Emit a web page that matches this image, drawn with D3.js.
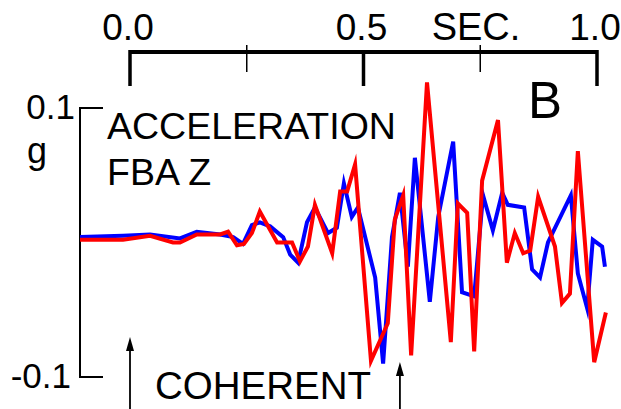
<!DOCTYPE html>
<html lang="en-US">
<head>
<meta charset="UTF-8">
<title>Acceleration FBA Z</title>
<style>
  body { margin: 0; background: #fff; }
  svg { display: block; }
  text { font-family: "Liberation Sans", Arial, sans-serif; fill: #000; }
  .trace { fill: none; stroke-width: 4px; stroke-linejoin: miter; stroke-miterlimit: 6; }
</style>
</head>
<body>
<div id="viz"></div>
<script src="https://d3js.org/d3.v7.min.js"></script>
<script>
// time in seconds, acceleration in g
var blueTime = [-0.107, -0.015, 0.043, 0.107, 0.143, 0.193, 0.221, 0.242, 0.261, 0.278,
                0.300, 0.328, 0.343, 0.360, 0.379, 0.396, 0.424, 0.443, 0.458, 0.475,
                0.488, 0.525, 0.542, 0.561, 0.578, 0.595, 0.610, 0.642, 0.660, 0.692,
                0.711, 0.737, 0.756, 0.777, 0.797, 0.809, 0.844, 0.861, 0.878, 0.895,
                0.944, 0.959, 0.979, 0.991, 1.011, 1.017];
var blueAcc  = [0.004, 0.005, 0.006, 0.003, 0.008, 0.006, 0.004, -0.001, 0.013, 0.015,
                0.012, 0.004, -0.009, -0.015, 0.015, 0.026, 0.007, 0.011, 0.044, 0.019,
                0.026, -0.026, -0.090, 0.004, 0.037, -0.018, 0.063, -0.044, 0.019, 0.075,
                -0.037, -0.040, 0.035, 0.009, 0.037, 0.028, 0.026, -0.020, -0.026, 0.000,
                0.035, -0.023, -0.049, 0.002, -0.003, -0.018];

var redTime = [-0.107, -0.015, 0.043, 0.092, 0.107, 0.143, 0.193, 0.210, 0.229, 0.244,
               0.261, 0.278, 0.315, 0.347, 0.364, 0.381, 0.396, 0.433, 0.450, 0.465,
               0.482, 0.516, 0.552, 0.567, 0.585, 0.602, 0.636, 0.687, 0.702, 0.722,
               0.737, 0.754, 0.788, 0.807, 0.824, 0.842, 0.857, 0.874, 0.910, 0.925,
               0.942, 0.959, 0.994, 1.019];
var redAcc  = [0.002, 0.002, 0.005, 0.000, 0.000, 0.006, 0.006, 0.008, -0.002, -0.001,
               0.007, 0.023, 0.000, 0.000, -0.014, -0.003, 0.028, -0.008, 0.038, 0.038,
               0.058, -0.088, -0.060, 0.017, 0.035, -0.084, 0.119, -0.074, 0.029, 0.022,
               -0.081, 0.046, 0.091, -0.015, 0.007, -0.008, -0.006, 0.034, -0.003, -0.045,
               -0.038, 0.068, -0.089, -0.052];

var majorTicks = [0, 0.5, 1];
var minorTicks = [0.25, 0.75];
var tickLabels = ["0.0", "0.5", "1.0"];
var yLimits = [-0.1, 0.1];
var yLabels = ["-0.1", "0.1"];
var arrowTimes = [0, 0.578];

var width = 621, height = 409;

var x = d3.scaleLinear().domain([0, 1]).range([130, 597]);
var y = d3.scaleLinear().domain(yLimits).range([377, 108]);

var svg = d3.select("#viz").append("svg")
    .attr("width", width)
    .attr("height", height);

// time axis on top
var axisY = 52;
svg.append("line")
    .attr("x1", x(0)).attr("x2", x(1))
    .attr("y1", axisY).attr("y2", axisY)
    .attr("stroke", "#000").attr("stroke-width", 4);

svg.selectAll(".major").data(majorTicks).enter().append("line")
    .attr("x1", d => x(d)).attr("x2", d => x(d))
    .attr("y1", axisY - 2).attr("y2", 86)
    .attr("stroke", "#000").attr("stroke-width", 3.5);

svg.selectAll(".minor").data(minorTicks).enter().append("line")
    .attr("x1", d => x(d)).attr("x2", d => x(d))
    .attr("y1", 45).attr("y2", 72)
    .attr("stroke", "#000").attr("stroke-width", 1.5);

svg.selectAll(".tlab").data(majorTicks).enter().append("text")
    .attr("x", d => x(d) - 2).attr("y", 40)
    .attr("text-anchor", "middle")
    .attr("font-size", 37)
    .text((d, i) => tickLabels[i]);

svg.append("text")
    .attr("x", 476).attr("y", 40)
    .attr("text-anchor", "middle")
    .attr("font-size", 38)
    .text("SEC.");

// y bracket
var axX = 80;
svg.append("path")
    .attr("d", "M" + (axX + 23) + "," + y(0.1) + "H" + axX + "V" + y(-0.1) + "H" + (axX + 23))
    .attr("fill", "none").attr("stroke", "#000").attr("stroke-width", 2);

svg.selectAll(".ylab").data(yLimits).enter().append("text")
    .attr("x", (d, i) => i === 0 ? 71 : 75).attr("y", d => y(d) + 11)
    .attr("text-anchor", "end")
    .attr("font-size", 35)
    .text((d, i) => yLabels[i]);

svg.append("text").attr("x", 27).attr("y", 163).attr("font-size", 36).text("g");

svg.append("text").attr("x", 107).attr("y", 139).attr("font-size", 37.5).text("ACCELERATION");
svg.append("text").attr("x", 107).attr("y", 185).attr("font-size", 37.5).text("FBA Z");
svg.append("text").attr("x", 528).attr("y", 118).attr("font-size", 51).text("B");
svg.append("text").attr("x", 155).attr("y", 399).attr("font-size", 38.5).text("COHERENT");

// arrows
var arrowTop = [337, 362];
arrowTimes.forEach(function (t, i) {
    var ax = x(t), top = arrowTop[i];
    svg.append("line")
        .attr("x1", ax).attr("x2", ax)
        .attr("y1", top + 6).attr("y2", height)
        .attr("stroke", "#000").attr("stroke-width", 1.8);
    svg.append("path")
        .attr("d", "M" + ax + "," + top + "L" + (ax - 4) + "," + (top + 14) + "L" + (ax + 4) + "," + (top + 14) + "Z")
        .attr("fill", "#000");
});

// traces
var line = d3.line()
    .x(d => x(d[0]))
    .y(d => y(d[1]));

svg.append("path")
    .datum(d3.zip(blueTime, blueAcc))
    .attr("class", "trace")
    .attr("stroke", "#0000ff")
    .attr("d", line);

svg.append("path")
    .datum(d3.zip(redTime, redAcc))
    .attr("class", "trace")
    .attr("stroke", "#ff0000")
    .attr("d", line);
</script>
</body>
</html>
